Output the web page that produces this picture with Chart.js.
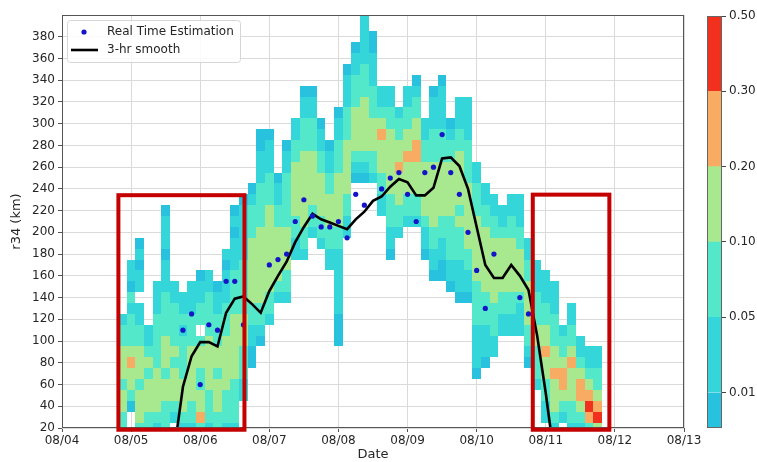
<!DOCTYPE html>
<html>
<head>
<meta charset="utf-8">
<script src="https://cdn.jsdelivr.net/npm/chart.js@4.4.0/dist/chart.umd.min.js"></script>
<style>
  html, body { margin: 0; padding: 0; background: #fff; }
  #wrap { position: relative; width: 757px; height: 462px; }
  #main { position: absolute; left: 0; top: 0; }
  #cbar { position: absolute; left: 690px; top: 0; }
</style>
</head>
<body>
<div id="wrap">
  <canvas id="main" width="757" height="462"></canvas>
  <canvas id="cbar" width="67" height="462"></canvas>
</div>
<script>
// x axis: days after 08/04 00:00
const dateTicks = ['08/04', '08/05', '08/06', '08/07', '08/08', '08/09', '08/10', '08/11', '08/12', '08/13'];
const yTicks = [20, 40, 60, 80, 100, 120, 140, 160, 180, 200, 220, 240, 260, 280, 300, 320, 340, 360, 380];
const cbarTicks = ['0.01', '0.05', '0.10', '0.20', '0.30', '0.50'];
const cbarEdges = [-0.47, 0, 1, 2, 3, 4, 5];   // colorbar segment edges, in tick units

// probability heatmap: 3-hourly columns from 08/04 21:00, 10-km rows centred on 20, 30, 40 ...
// each string runs bottom -> top; '.' empty, 1 <0.01, 2 0.01-0.05, 3 0.05-0.10, 4 0.10-0.20, 5 0.20-0.30, 6 0.30-0.50
const heatFirstDay = 0.875;
const heatStepDay = 0.125;
const heatFirstKm = 20;
const heatStepKm = 10;
const heatColumns = [
  '33443444332',
  '..13445433323122',
  '344434443322.22121',
  '3344434322',
  '23444433333222',
  '333443444333322212221',
  '.2344434333322',
  '2344433332322',
  '23344444333222',
  '354433443.33221',
  '233344444333322',
  '33444344333221',
  '23334444433322212',
  '233334444443333222121',
  '...2233344433333222221',
  '......11223344444433321',
  '........12334444444333322211',
  '..........233444444443332221',
  '............234444433221',
  '............233444433333221',
  '................2233444443322',
  '................2334444444333221',
  '..................23344444333221',
  '.................233444433221',
  '...............223344433221',
  '........1112222223344444333221',
  '..................2233444443332221',
  '.......................1234444333221',
  '.......................1234444433322222',
  '.......................23344433322211',
  '....................223344454322',
  '................1223334444443322',
  '..................233444544332',
  '...................2334445443322',
  '...................23344455443321',
  '................1223444443322',
  '..............122334444443332221',
  '..............1122334444433322221',
  '.............1223333444443321',
  '............1222333434444433222',
  '............1223344444433332222',
  '.....12222333344444433322',
  '......12223334444443322',
  '.......223334444443322',
  '.........223344444322',
  '.........2233444443322',
  '.........2223444433222',
  '......123344443322',
  '....233344333222',
  '.22334454433222',
  '23444544333222',
  '.234554332',
  '233444543322',
  '234554322',
  '35654322',
  '46543322'
];

// Real Time Estimation, every 3 h from 08/05 18:00 (null = no estimate)
const estFirstDay = 1.75;
const estKm = [110, 125, 60, 115, 110, 155, 155, 115, null, null,
  170, 175, 180, 210, 230, 215, 205, 205, 210, 195,
  235, 225, null, 240, 250, 255, 235, 210, 255, 260,
  290, 255, 235, 200, 165, 130, 180, null, null, 140, 125];

// 3-hr smooth, every 3 h from 08/05 15:00
const smoothFirstDay = 1.625;
const smoothKm = [0, 58, 86, 99, 99, 95, 126, 139, 141, 134,
  126, 146, 160, 173, 191, 205, 217, 212, 209, 206,
  203, 212, 219, 229, 233, 242, 249, 246, 234, 234,
  241, 268, 269, 261, 240, 205, 170, 158, 158, 170,
  160, 147, 105, 52, -8];

// highlighted periods (days, km)
const highlightBoxes = [
  { from: 0.816, to: 2.640, bottom: 18.4, top: 234.2 },
  { from: 6.812, to: 7.920, bottom: 18.4, top: 234.7 }
];

const levelColors = ['#28c2de', '#35d6da', '#52e8c9', '#a8e88f', '#f8ab62', '#f2301e'];
const FONT = 'DejaVu Sans';
const TEXT = '#262626';

const estPoints = estKm.map((v, i) => ({ x: estFirstDay + i * 0.125, y: v })).filter(p => p.y !== null);
const smoothPoints = smoothKm.map((v, i) => ({ x: smoothFirstDay + i * 0.125, y: v }));

const heatmapPlugin = {
  id: 'heatmap',
  beforeDatasetsDraw(chart) {
    const { ctx, chartArea: a, scales: { x, y } } = chart;
    ctx.save();
    ctx.beginPath();
    ctx.rect(a.left, a.top, a.width, a.height);
    ctx.clip();
    heatColumns.forEach((col, k) => {
      const t = heatFirstDay + k * heatStepDay;
      const xl = Math.round(x.getPixelForValue(t - heatStepDay / 2));
      const xr = Math.round(x.getPixelForValue(t + heatStepDay / 2));
      for (let j = 0; j < col.length; j++) {
        if (col[j] === '.') continue;
        const km = heatFirstKm + j * heatStepKm;
        const yt = Math.round(y.getPixelForValue(km + heatStepKm / 2));
        const yb = Math.round(y.getPixelForValue(km - heatStepKm / 2));
        ctx.fillStyle = levelColors[Number(col[j]) - 1];
        ctx.fillRect(xl, yt, xr - xl, yb - yt);
      }
    });
    ctx.restore();
  }
};

const overlayPlugin = {
  id: 'overlay',
  afterDatasetsDraw(chart) {
    const { ctx, chartArea: a, scales: { x, y } } = chart;
    ctx.save();
    // axes frame
    ctx.strokeStyle = '#555';
    ctx.lineWidth = 1;
    ctx.strokeRect(Math.round(a.left) + 0.5, Math.round(a.top) + 0.5,
      Math.round(a.width) - 1, Math.round(a.height) - 1);
    // red boxes
    ctx.strokeStyle = '#c40000';
    ctx.lineWidth = 4;
    highlightBoxes.forEach(b => {
      const l = x.getPixelForValue(b.from), r = x.getPixelForValue(b.to);
      const t = y.getPixelForValue(b.top), bt = y.getPixelForValue(b.bottom);
      ctx.strokeRect(l, t, r - l, bt - t);
    });
    ctx.restore();
  },
  afterDraw(chart) {
    // legend box in the upper left corner of the axes
    const { ctx, chartArea: a } = chart;
    const bx = a.left + 5, by = a.top + 5, bw = 173, bh = 42;
    ctx.save();
    ctx.fillStyle = 'rgba(255,255,255,0.85)';
    ctx.strokeStyle = '#d6d6d6';
    ctx.lineWidth = 1;
    ctx.beginPath();
    ctx.roundRect(bx + 0.5, by + 0.5, bw, bh, 3);
    ctx.fill();
    ctx.stroke();
    ctx.fillStyle = '#1414c8';
    ctx.beginPath();
    ctx.arc(bx + 17, by + 12, 2.6, 0, Math.PI * 2);
    ctx.fill();
    ctx.strokeStyle = '#000';
    ctx.lineWidth = 2.6;
    ctx.beginPath();
    ctx.moveTo(bx + 4, by + 30);
    ctx.lineTo(bx + 31, by + 30);
    ctx.stroke();
    ctx.fillStyle = TEXT;
    ctx.font = '12px "' + FONT + '"';
    ctx.textBaseline = 'middle';
    ctx.fillText('Real Time Estimation', bx + 40, by + 12);
    ctx.fillText('3-hr smooth', bx + 40, by + 30);
    ctx.restore();
  }
};

new Chart(document.getElementById('main'), {
  type: 'scatter',
  data: {
    datasets: [
      {
        label: 'Real Time Estimation',
        data: estPoints,
        backgroundColor: '#1414c8',
        borderWidth: 0,
        pointRadius: 2.6
      },
      {
        label: '3-hr smooth',
        data: smoothPoints,
        showLine: true,
        borderColor: '#000',
        borderWidth: 2.6,
        pointRadius: 0,
        tension: 0
      }
    ]
  },
  options: {
    responsive: false,
    animation: false,
    layout: { padding: { left: 0, top: 15, right: 73, bottom: 0 } },
    plugins: { legend: { display: false }, tooltip: { enabled: false } },
    scales: {
      x: {
        type: 'linear',
        min: 0,
        max: 9,
        afterBuildTicks: s => { s.ticks = dateTicks.map((_, i) => ({ value: i })); },
        afterFit: s => { s.height = 34; },
        ticks: {
          callback: (v, i) => dateTicks[i],
          autoSkip: false,
          maxRotation: 0,
          padding: 2,
          color: TEXT,
          font: { family: FONT, size: 12 }
        },
        grid: { color: '#dadada', tickLength: 4, tickColor: '#555' },
        border: { display: false },
        title: {
          display: true,
          text: 'Date',
          color: TEXT,
          font: { family: FONT, size: 13 },
          padding: { top: 0, bottom: 0 }
        }
      },
      y: {
        type: 'linear',
        min: 20,
        max: 400,
        afterBuildTicks: s => { s.ticks = yTicks.map(v => ({ value: v })); },
        afterFit: s => { s.width = 62; },
        ticks: {
          padding: 3,
          color: TEXT,
          font: { family: FONT, size: 12 }
        },
        grid: { color: '#dadada', tickLength: 4, tickColor: '#555' },
        border: { display: false },
        title: {
          display: true,
          text: 'r34 (km)',
          color: TEXT,
          font: { family: FONT, size: 13 },
          padding: { top: 9, bottom: 0 }
        }
      }
    }
  },
  plugins: [heatmapPlugin, overlayPlugin]
});

// colorbar
new Chart(document.getElementById('cbar'), {
  type: 'bar',
  data: {
    labels: [''],
    datasets: levelColors.map((c, i) => ({
      data: [[cbarEdges[i], cbarEdges[i + 1]]],
      backgroundColor: c,
      borderWidth: 0,
      barPercentage: 1,
      categoryPercentage: 1
    }))
  },
  options: {
    responsive: false,
    animation: false,
    layout: { padding: { left: 17, top: 16, right: 0, bottom: 34 } },
    plugins: { legend: { display: false }, tooltip: { enabled: false } },
    scales: {
      x: { display: false, stacked: true },
      y: {
        position: 'right',
        min: cbarEdges[0],
        max: cbarEdges[cbarEdges.length - 1],
        afterBuildTicks: s => { s.ticks = cbarTicks.map((_, i) => ({ value: i })); },
        afterFit: s => { s.width = 35; },
        ticks: {
          callback: (v, i) => cbarTicks[i],
          padding: 3,
          color: TEXT,
          font: { family: FONT, size: 12 }
        },
        grid: { drawOnChartArea: false, tickLength: 4, tickColor: '#444' },
        border: { display: false }
      }
    }
  },
  plugins: [{
    id: 'outline',
    afterDatasetsDraw(chart) {
      const { ctx, chartArea: a } = chart;
      ctx.save();
      ctx.strokeStyle = '#666';
      ctx.lineWidth = 1;
      ctx.strokeRect(Math.round(a.left) + 0.5, Math.round(a.top) + 0.5,
        Math.round(a.width) - 1, Math.round(a.height) - 1);
      ctx.restore();
    }
  }]
});
</script>
</body>
</html>
